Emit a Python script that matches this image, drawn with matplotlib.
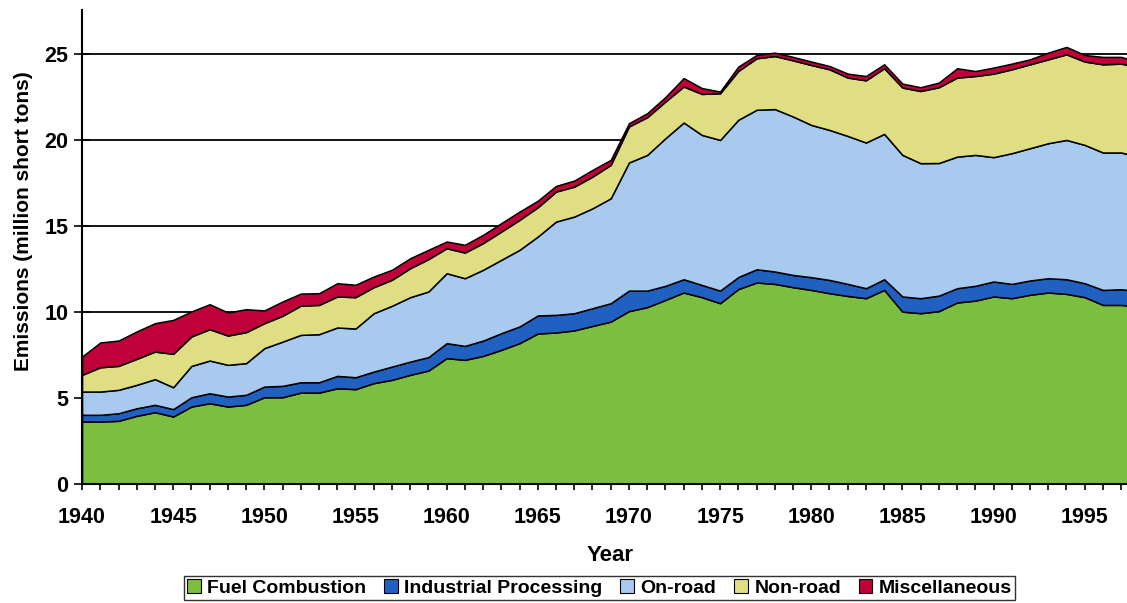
import matplotlib
matplotlib.use("Agg")
import matplotlib.pyplot as plt
import numpy as np

plt.rcParams['font.family'] = ['Liberation Sans', 'DejaVu Sans']
plt.rcParams['font.weight'] = 'bold'

years = list(range(1940, 1999))

fuel_combustion = [
    3.64, 3.64, 3.68, 3.97, 4.18, 3.93, 4.51, 4.70, 4.51, 4.61,
    5.05, 5.05, 5.32, 5.32, 5.57, 5.52, 5.87, 6.06, 6.35, 6.60,
    7.32, 7.22, 7.45, 7.80, 8.19, 8.75, 8.81, 8.93, 9.19, 9.44,
    10.05, 10.28, 10.70, 11.13, 10.86, 10.51, 11.33, 11.71, 11.63, 11.44,
    11.28, 11.09, 10.93, 10.80, 11.28, 10.02, 9.93, 10.05, 10.55, 10.66,
    10.90, 10.80, 11.00, 11.13, 11.05, 10.86, 10.41, 10.41, 10.30]
industrial_processing = [
    0.39, 0.39, 0.44, 0.44, 0.43, 0.43, 0.54, 0.58, 0.58, 0.58,
    0.62, 0.66, 0.60, 0.60, 0.72, 0.69, 0.67, 0.77, 0.77, 0.78,
    0.87, 0.81, 0.89, 0.97, 0.97, 1.05, 1.02, 1.00, 1.03, 1.07,
    1.19, 0.96, 0.82, 0.77, 0.71, 0.73, 0.70, 0.77, 0.72, 0.71,
    0.74, 0.77, 0.70, 0.58, 0.62, 0.88, 0.87, 0.90, 0.83, 0.86,
    0.87, 0.83, 0.83, 0.83, 0.85, 0.81, 0.87, 0.91, 0.90]
on_road = [
    1.35, 1.35, 1.36, 1.36, 1.49, 1.27, 1.82, 1.90, 1.84, 1.84,
    2.23, 2.57, 2.75, 2.79, 2.81, 2.83, 3.39, 3.53, 3.74, 3.81,
    4.06, 3.93, 4.11, 4.26, 4.45, 4.58, 5.42, 5.61, 5.80, 6.09,
    7.44, 7.88, 8.57, 9.10, 8.71, 8.75, 9.13, 9.26, 9.43, 9.20,
    8.84, 8.71, 8.59, 8.46, 8.44, 8.22, 7.84, 7.70, 7.64, 7.60,
    7.22, 7.59, 7.68, 7.84, 8.09, 8.03, 7.98, 7.94, 7.80]
non_road = [
    0.97, 1.41, 1.39, 1.51, 1.60, 1.94, 1.71, 1.82, 1.70, 1.80,
    1.45, 1.50, 1.70, 1.70, 1.80, 1.82, 1.51, 1.51, 1.68, 1.88,
    1.45, 1.49, 1.55, 1.64, 1.74, 1.70, 1.74, 1.74, 1.84, 1.94,
    2.09, 2.19, 2.13, 2.09, 2.38, 2.71, 2.84, 2.99, 3.08, 3.26,
    3.48, 3.52, 3.39, 3.61, 3.81, 3.91, 4.19, 4.40, 4.59, 4.58,
    4.85, 4.87, 4.87, 4.87, 4.97, 4.84, 5.12, 5.16, 5.20]
miscellaneous = [
    1.06, 1.44, 1.47, 1.59, 1.65, 1.97, 1.45, 1.45, 1.34, 1.33,
    0.74, 0.83, 0.70, 0.68, 0.77, 0.72, 0.62, 0.58, 0.58, 0.54,
    0.39, 0.45, 0.48, 0.49, 0.48, 0.38, 0.33, 0.35, 0.39, 0.29,
    0.19, 0.23, 0.26, 0.49, 0.34, 0.10, 0.25, 0.19, 0.20, 0.20,
    0.20, 0.19, 0.23, 0.25, 0.23, 0.23, 0.22, 0.27, 0.54, 0.29,
    0.35, 0.33, 0.29, 0.39, 0.43, 0.38, 0.43, 0.39, 0.30]

labels = ['Fuel Combustion', 'Industrial Processing', 'On-road', 'Non-road', 'Miscellaneous']
colors = ['#7CBF40', '#2060C0', '#A8CAEE', '#DFDE82', '#C00038']

fig = plt.figure(figsize=(11.27, 6.03), dpi=100)
ax = fig.add_axes([0.0728, 0.197, 0.9272, 0.7866])

for v in [5, 10, 15, 20, 25]:
    ax.axhline(v, color='black', lw=1.3, zorder=0)

ax.stackplot(years, fuel_combustion, industrial_processing, on_road, non_road,
             miscellaneous, labels=labels, colors=colors,
             edgecolor='black', linewidth=1.1, zorder=2)

ax.set_xlim(1940, 1997.32)
ax.set_ylim(0, 27.54)
ax.set_xticks(range(1940, 1998, 5))
ax.set_xticks(range(1940, 1998), minor=True)
ax.set_yticks([0, 5, 10, 15, 20, 25])
ax.tick_params(axis='x', which='both', direction='inout', length=9, width=1.2,
               labelsize=15.5, pad=12)
ax.tick_params(axis='y', direction='inout', length=12, width=1.2, labelsize=15.5, pad=4)

for s in ['top', 'right']:
    ax.spines[s].set_visible(False)
for s in ['left', 'bottom']:
    ax.spines[s].set_linewidth(1.5)
    ax.spines[s].set_zorder(3)

ax.set_xlabel('Year', fontsize=16, fontweight='bold')
ax.xaxis.set_label_coords(0.505, -0.128)
ax.set_ylabel('Emissions (million short tons)', fontsize=15, fontweight='bold')
ax.yaxis.set_label_coords(-0.047, 0.555)

leg = fig.legend(loc='upper center', bbox_to_anchor=(0.532, 0.044), ncol=5,
                 fontsize=14, frameon=True, fancybox=False, edgecolor='black',
                 handlelength=0.7, handleheight=0.7, handletextpad=0.35,
                 columnspacing=0.9, borderpad=0.15, borderaxespad=0)
leg.get_frame().set_linewidth(1.0)
for h in leg.legend_handles:
    h.set_edgecolor('black')
    h.set_linewidth(0.8)

fig.savefig('out.png', dpi=100)
